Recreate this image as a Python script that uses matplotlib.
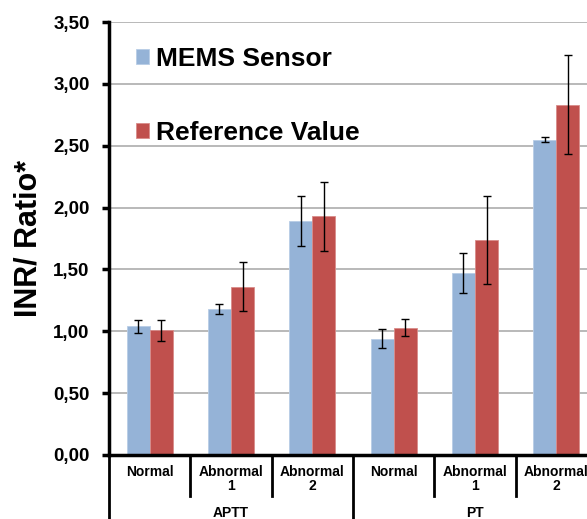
import numpy as np
import matplotlib.pyplot as plt
from matplotlib.lines import Line2D

plt.rcParams['font.family'] = ['Liberation Sans', 'DejaVu Sans']
plt.rcParams['font.weight'] = 'bold'

# data
categories = ['Normal', 'Abnormal\n1', 'Abnormal\n2', 'Normal', 'Abnormal\n1', 'Abnormal\n2']
groups = ['APTT', 'PT']
mems = [1.04, 1.18, 1.89, 0.94, 1.47, 2.55]
mems_err = [0.055, 0.04, 0.20, 0.075, 0.16, 0.022]
ref = [1.01, 1.36, 1.93, 1.03, 1.74, 2.83]
ref_err = [0.085, 0.20, 0.28, 0.07, 0.355, 0.40]
yticks = [0.0, 0.5, 1.0, 1.5, 2.0, 2.5, 3.0, 3.5]

blue = '#95B3D7'
red = '#C0504D'

fig = plt.figure(figsize=(5.87, 5.19), dpi=100)
ax = fig.add_axes([109 / 587, 64 / 519, 488 / 587, 433 / 519])

x = np.arange(len(categories))
w = 0.283
ax.bar(x - w / 2, mems, w, color=blue, edgecolor='#b8cde6', linewidth=0.6,
       label='MEMS Sensor', zorder=2)
ax.bar(x + w / 2, ref, w, color=red, edgecolor='#d98c8a', linewidth=0.6,
       label='Reference Value', zorder=2)
ax.errorbar(x - w / 2, mems, yerr=mems_err, fmt='none', ecolor='black',
            elinewidth=1, capsize=3, capthick=1, zorder=3)
ax.errorbar(x + w / 2, ref, yerr=ref_err, fmt='none', ecolor='black',
            elinewidth=1, capsize=3, capthick=1, zorder=3)

ax.set_xlim(-0.5, len(categories) - 0.5)
ax.set_ylim(0, 3.5)
ax.set_yticks(yticks)
ax.set_yticklabels([f'{v:.2f}'.replace('.', ',') for v in yticks])
ax.yaxis.grid(True, color='#b3b3b3', linewidth=1.3, zorder=0)
ax.set_axisbelow(True)
ax.tick_params(axis='y', direction='out', length=5, width=2.5, labelsize=13.5, pad=9)
ax.set_xticks([])
for s in ['top', 'right']:
    ax.spines[s].set_visible(False)
for s in ['left', 'bottom']:
    ax.spines[s].set_linewidth(2.5)

ax.set_ylabel('INR/ Ratio*', fontsize=22, fontweight='bold', labelpad=7)

# category labels and separators under the axis
trans = ax.get_xaxis_transform()
for i, lab in enumerate(categories):
    ax.text(i, -0.024, lab, transform=trans, ha='center', va='top',
            fontsize=10, fontweight='bold', linespacing=1.0)
for b in range(len(categories) + 1):
    xb = b - 0.5
    long = b % 3 == 0
    ax.add_line(Line2D([xb, xb], [0, -0.16 if long else -0.095], transform=trans,
                       color='black', linewidth=2, clip_on=False))
for g, lab in enumerate(groups):
    ax.text(g * 3 + 1, -0.134, lab, transform=trans, ha='center', va='center',
            fontsize=10, fontweight='bold')

ax.legend(loc='upper left', bbox_to_anchor=(136 / 587, 1 - 47 / 519),
          bbox_transform=fig.transFigure, frameon=False,
          handlelength=0.5, handleheight=0.5, handletextpad=0.25,
          labelspacing=1.88, borderpad=0, borderaxespad=0,
          prop={'weight': 'bold', 'size': 19})

fig.savefig('out.png', dpi=100)
